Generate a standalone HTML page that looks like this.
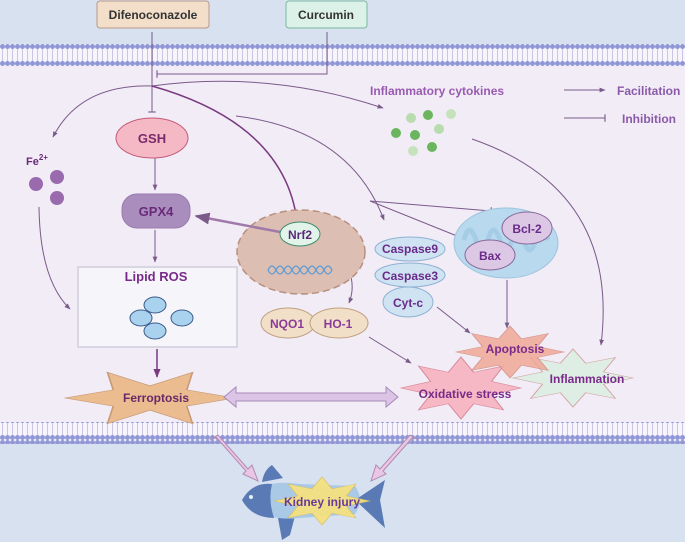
<!DOCTYPE html>
<html><head><meta charset="utf-8"><style>
html,body{margin:0;padding:0;background:#d7e1ef}
svg{display:block}
text{font-family:"Liberation Sans",sans-serif;font-weight:bold}
</style></head><body>
<svg width="685" height="542" viewBox="0 0 685 542" xmlns="http://www.w3.org/2000/svg">
<defs>
<pattern id="mem" width="5" height="22" patternUnits="userSpaceOnUse">
<rect width="5" height="22" fill="#f7f4fb"/>
<line x1="2.5" y1="4" x2="2.5" y2="18" stroke="#c9c6e4" stroke-width="1"/>
<circle cx="2.5" cy="2.5" r="2.5" fill="#8f97d6"/>
<circle cx="2.5" cy="19.5" r="2.5" fill="#8f97d6"/>
</pattern>
<marker id="ah" viewBox="0 0 10 10" refX="9" refY="5" markerWidth="6" markerHeight="6" orient="auto"><path d="M0,1 L10,5 L0,9 z" fill="#7a5a8a"/></marker>
<marker id="ahd" viewBox="0 0 10 10" refX="9" refY="5" markerWidth="6" markerHeight="6" orient="auto"><path d="M0,1 L10,5 L0,9 z" fill="#7a3a80"/></marker>
<marker id="tb" viewBox="0 0 4 10" refX="2" refY="5" markerWidth="3" markerHeight="8" orient="auto"><line x1="2" y1="0" x2="2" y2="10" stroke="#7a5a8a" stroke-width="1.5"/></marker>
</defs>
<rect width="685" height="542" fill="#d7e1ef"/>
<rect x="0" y="65" width="685" height="360" fill="#f1ecf6"/>
<rect x="0" y="44" width="685" height="22" fill="url(#mem)"/>
<rect x="0" y="422" width="685" height="22" fill="url(#mem)"/>

<rect x="97" y="1" width="112" height="27" rx="3" fill="#f2dec9" stroke="#b8988a"/>
<text x="153" y="19" font-size="12" text-anchor="middle" fill="#333" font-weight="normal">Difenoconazole</text>
<rect x="286" y="1" width="81" height="27" rx="3" fill="#dcf1e8" stroke="#7cb8a0"/>
<text x="326" y="19" font-size="12" text-anchor="middle" fill="#333" font-weight="normal">Curcumin</text>

<g fill="none" stroke="#7a5a8a" stroke-width="1">
<line x1="152" y1="32" x2="152" y2="112" marker-end="url(#tb)"/>
<polyline points="327,32 327,74 157,74" marker-end="url(#tb)"/>
<path d="M152,86 Q80,84 53,137" marker-end="url(#ah)"/>
<path d="M152,86 Q270,70 383,108" marker-end="url(#ah)"/>
<path d="M152,86 Q290,125 298,230" stroke="#7a3a80" stroke-width="1.5" marker-end="url(#tb)"/>
<line x1="155" y1="158" x2="155" y2="190" marker-end="url(#ah)"/>
<line x1="155" y1="230" x2="155" y2="262" marker-end="url(#ah)"/>
<path d="M39,207 Q40,280 70,309" marker-end="url(#ah)"/>
<path d="M236,116 Q350,130 384,220" marker-end="url(#ah)"/>
<line x1="370" y1="201" x2="491" y2="211" marker-end="url(#tb)"/>
<line x1="370" y1="201" x2="467" y2="240" marker-end="url(#ah)"/>
<path d="M333,248 Q360,275 349,303" marker-end="url(#ah)"/>
<line x1="369" y1="337" x2="411" y2="363" marker-end="url(#ah)"/>
<line x1="437" y1="307" x2="470" y2="333" marker-end="url(#ah)"/>
<line x1="507" y1="280" x2="507" y2="328" marker-end="url(#ah)"/>
<path d="M472,139 Q620,190 601,345" marker-end="url(#ah)"/>
<line x1="564" y1="90" x2="605" y2="90" marker-end="url(#ah)"/>
<line x1="564" y1="118" x2="605" y2="118" marker-end="url(#tb)"/>
<line x1="157" y1="349" x2="157" y2="377" stroke="#7a3a80" stroke-width="1.5" marker-end="url(#ahd)"/>
</g>

<text x="617" y="95" font-size="12" fill="#8a5aa8" font-weight="normal">Facilitation</text>
<text x="622" y="123" font-size="12" fill="#8a5aa8" font-weight="normal">Inhibition</text>
<text x="370" y="95" font-size="12" fill="#9a5ab0">Inflammatory cytokines</text>

<g>
<circle cx="411" cy="118" r="5" fill="#b8dcae"/><circle cx="428" cy="115" r="5" fill="#6ab55e"/>
<circle cx="451" cy="114" r="5" fill="#c6e2bc"/><circle cx="396" cy="133" r="5" fill="#6ab55e"/>
<circle cx="415" cy="135" r="5" fill="#6ab55e"/><circle cx="439" cy="129" r="5" fill="#b8dcae"/>
<circle cx="413" cy="151" r="5" fill="#c6e2bc"/><circle cx="432" cy="147" r="5" fill="#6ab55e"/>
</g>

<text x="26" y="165" font-size="11" fill="#6a2a7a">Fe<tspan dy="-5" font-size="8">2+</tspan></text>
<circle cx="36" cy="184" r="7" fill="#9a6aae"/><circle cx="57" cy="177" r="7" fill="#9a6aae"/><circle cx="57" cy="198" r="7" fill="#9a6aae"/>

<ellipse cx="152" cy="138" rx="36" ry="20" fill="#f5b9c5" stroke="#c45a78"/>
<text x="152" y="143" font-size="13" text-anchor="middle" fill="#7a2a6a">GSH</text>
<rect x="122" y="194" width="68" height="34" rx="15" fill="#a98dbd" stroke="#9a7ab0"/>
<text x="156" y="216" font-size="13" text-anchor="middle" fill="#6a2a7a">GPX4</text>

<rect x="78" y="267" width="159" height="80" fill="#f6f5fa" stroke="#d8d6e2" stroke-width="2"/>
<text x="156" y="281" font-size="13" text-anchor="middle" fill="#7a2a8a">Lipid ROS</text>
<g fill="#a9d2ee" stroke="#3a5a8a" stroke-width="1">
<ellipse cx="155" cy="305" rx="11" ry="8"/><ellipse cx="141" cy="318" rx="11" ry="8"/>
<ellipse cx="182" cy="318" rx="11" ry="8"/><ellipse cx="155" cy="331" rx="11" ry="8"/>
</g>

<polygon transform="translate(150,398) scale(85,27)" points="1,0 .433,-.3 .5,-.95 0,-.45 -.5,-.95 -.433,-.3 -1,0 -.433,.3 -.5,.95 0,.45 .5,.95 .433,.3" fill="#eabc90" stroke="#c89a78" stroke-width=".02"/>
<text x="156" y="402" font-size="12" text-anchor="middle" fill="#6a2a6a">Ferroptosis</text>

<ellipse cx="301" cy="252" rx="64" ry="42" fill="#dcbfb2" stroke="#b89080" stroke-width="1.5" stroke-dasharray="7,4"/>
<g fill="none" stroke="#5a9ad6" stroke-width="1.2">
<path d="M268,270 q4,-8 8,0 q4,8 8,0 q4,-8 8,0 q4,8 8,0 q4,-8 8,0 q4,8 8,0 q4,-8 8,0 q4,8 8,0"/>
<path d="M268,270 q4,8 8,0 q4,-8 8,0 q4,8 8,0 q4,-8 8,0 q4,8 8,0 q4,-8 8,0 q4,8 8,0 q4,-8 8,0"/>
</g>
<line x1="280" y1="232" x2="196" y2="216" stroke="#a07aa8" stroke-width="2.5" marker-end="url(#ah)"/>
<ellipse cx="300" cy="234" rx="20" ry="12" fill="#e2f4ea" stroke="#3a8a6a"/>
<text x="300" y="239" font-size="12" text-anchor="middle" fill="#5a2a7a">Nrf2</text>

<ellipse cx="288" cy="323" rx="27" ry="15" fill="#f2dfc8" stroke="#c0a080"/>
<ellipse cx="339" cy="323" rx="29" ry="15" fill="#f2dfc8" stroke="#c0a080"/>
<text x="287" y="328" font-size="12" text-anchor="middle" fill="#8a3a9a">NQO1</text>
<text x="338" y="328" font-size="12" text-anchor="middle" fill="#8a3a9a">HO-1</text>

<g fill="#cfe3f3" stroke="#8fb2d2">
<ellipse cx="410" cy="249" rx="35" ry="12"/><ellipse cx="410" cy="275" rx="35" ry="12"/><ellipse cx="408" cy="302" rx="25" ry="15"/>
</g>
<text x="410" y="253" font-size="12" text-anchor="middle" fill="#6a2a8a">Caspase9</text>
<text x="410" y="280" font-size="12" text-anchor="middle" fill="#6a2a8a">Caspase3</text>
<text x="408" y="307" font-size="12" text-anchor="middle" fill="#6a2a8a">Cyt-c</text>

<ellipse cx="506" cy="243" rx="52" ry="35" fill="#b9d9ee" stroke="#9cc4de"/>
<path d="M464,240 q5,-20 12,0 q5,20 12,0 q5,-20 12,0 q5,20 12,0 q5,-20 12,0 q5,20 12,0 q5,-20 12,0" fill="none" stroke="#a6cde6" stroke-width="5"/>
<ellipse cx="527" cy="228" rx="25" ry="16" fill="#dcc8e4" stroke="#8a6a9a"/>
<ellipse cx="490" cy="255" rx="25" ry="15" fill="#dcc8e4" stroke="#8a6a9a"/>
<text x="527" y="233" font-size="12" text-anchor="middle" fill="#6a2a8a">Bcl-2</text>
<text x="490" y="260" font-size="12" text-anchor="middle" fill="#6a2a8a">Bax</text>

<g stroke-width=".02">
<polygon transform="translate(461,388) scale(60,31)" points="1,0 .508,-.211 .707,-.707 .211,-.508 0,-1 -.211,-.508 -.707,-.707 -.508,-.211 -1,0 -.508,.211 -.707,.707 -.211,.508 0,1 .211,.508 .707,.707 .508,.211" fill="#f5b8c4" stroke="#d88a9a"/>
<polygon transform="translate(573,378) scale(60,29)" points="1,0 .508,-.211 .707,-.707 .211,-.508 0,-1 -.211,-.508 -.707,-.707 -.508,-.211 -1,0 -.508,.211 -.707,.707 -.211,.508 0,1 .211,.508 .707,.707 .508,.211" fill="#dcefe3" stroke="#d0a0a0" opacity=".9"/>
<polygon transform="translate(510,352) scale(54,26)" points="1,0 .508,-.211 .707,-.707 .211,-.508 0,-1 -.211,-.508 -.707,-.707 -.508,-.211 -1,0 -.508,.211 -.707,.707 -.211,.508 0,1 .211,.508 .707,.707 .508,.211" fill="#f0a898" stroke="#d08a80" opacity=".85"/>
</g>
<text x="515" y="353" font-size="12" text-anchor="middle" fill="#7a2a8a">Apoptosis</text>
<text x="587" y="383" font-size="12" text-anchor="middle" fill="#7a2a8a">Inflammation</text>
<text x="465" y="398" font-size="12" text-anchor="middle" fill="#7a2a8a">Oxidative stress</text>

<polygon points="224,397 236,387 236,393 386,393 386,387 398,397 386,407 386,401 236,401 236,407" fill="#dcc4e6" stroke="#a88ab8"/>

<g fill="#e9c6e4" stroke="#b48ab0">
<polygon points="210,440 218,435 248,469 252,465 258,481 243,474 246,471 216,437"/>
<polygon points="418,440 410,435 380,469 376,465 371,481 386,474 383,471 413,437"/>
</g>

<path d="M283,478 L272,465 Q264,470 262,482 Z" fill="#5a7ab6"/>
<path d="M295,516 L290,535 L282,540 L278,518 Z" fill="#5a7ab6"/>
<path d="M242,500 Q262,478 300,484 L355,486 Q365,500 355,514 L300,518 Q262,522 242,500 Z" fill="#a9c9e6"/>
<path d="M242,500 Q252,482 272,484 Q268,500 274,518 Q252,518 242,500 Z" fill="#5a7ab6"/>
<circle cx="251" cy="497" r="2" fill="#e8f0f8"/>
<path d="M355,500 L385,480 L380,500 L385,528 Z" fill="#5a7ab6"/>
<polygon transform="translate(322,501) scale(48,24)" points="1,0 .508,-.211 .707,-.707 .211,-.508 0,-1 -.211,-.508 -.707,-.707 -.508,-.211 -1,0 -.508,.211 -.707,.707 -.211,.508 0,1 .211,.508 .707,.707 .508,.211" fill="#f8e27a" stroke="#d8c060" stroke-width=".02" opacity=".9"/>
<text x="322" y="506" font-size="12" text-anchor="middle" fill="#6a3a9a">Kidney injury</text>
</svg>
</body></html>
